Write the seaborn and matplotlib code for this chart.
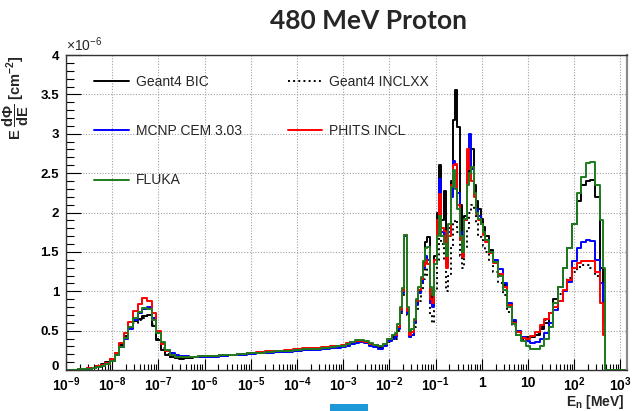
import numpy as np
import pandas as pd
import matplotlib
matplotlib.use("Agg")
import matplotlib.pyplot as plt
import matplotlib.ticker as mticker
import matplotlib.transforms as mtransforms
from matplotlib.patches import Rectangle
import seaborn as sns

# ---------------- data (flux in units of 1e-6 cm^-2) ----------------
log_energy = [
    # thermal region
    -9.0, -8.9, -8.8, -8.7, -8.6, -8.5, -8.4, -8.3, -8.2, -8.1,
    -8.0, -7.9, -7.8, -7.7, -7.6, -7.5, -7.4, -7.3, -7.2, -7.1,
    -7.0, -6.9, -6.8, -6.7, -6.6, -6.5, -6.4, -6.3, -6.2, -6.1, -6.0,
    # epithermal
    -5.8, -5.6, -5.4, -5.2, -5.0, -4.8, -4.6, -4.4, -4.2, -4.0, -3.8, -3.6, -3.4, -3.2,
    -3.1, -3.0, -2.9, -2.8, -2.7, -2.6, -2.5, -2.4, -2.3, -2.2, -2.1, -2.0, -1.9,
    # resonances
    -1.85, -1.80, -1.75, -1.70, -1.65, -1.60, -1.55, -1.50, -1.45, -1.40,
    -1.35, -1.30, -1.25, -1.20, -1.15, -1.10, -1.05, -1.00, -0.95, -0.90,
    -0.85, -0.80, -0.75, -0.70, -0.65, -0.60, -0.55, -0.50, -0.45, -0.40,
    -0.35, -0.30, -0.25, -0.20, -0.15, -0.10, -0.05, 0.00, 0.05, 0.10,
    # fast / high energy
    0.2, 0.3, 0.4, 0.5, 0.6, 0.7, 0.8, 0.9, 1.0, 1.1, 1.2, 1.3, 1.4, 1.5,
    1.6, 1.7, 1.8, 1.9, 2.0, 2.1, 2.2, 2.3, 2.4, 2.5, 2.6, 2.65, 2.7, 2.8, 2.9, 3.0, 3.1,
]

geant4_bic = [
    0.00, 0.00, 0.005, 0.01, 0.015, 0.02, 0.03, 0.045, 0.07, 0.10,
    0.14, 0.22, 0.32, 0.43, 0.54, 0.62, 0.65, 0.68, 0.70, 0.56,
    0.38, 0.26, 0.19, 0.16, 0.15, 0.145, 0.15, 0.155, 0.16, 0.165, 0.17,
    0.175, 0.18, 0.19, 0.20, 0.21, 0.215, 0.225, 0.235, 0.24, 0.25, 0.26, 0.27, 0.275, 0.285,
    0.30, 0.31, 0.33, 0.35, 0.36, 0.37, 0.36, 0.33, 0.32, 0.29, 0.32, 0.38, 0.42,
    0.45, 0.55, 0.78, 1.02, 1.70, 0.76, 0.47, 0.48, 0.62, 0.85,
    1.00, 1.15, 1.36, 1.62, 1.69, 1.00, 0.85, 1.45, 2.00, 2.60,
    1.90, 2.27, 1.50, 1.80, 2.40, 3.17, 3.56, 3.09, 2.10, 1.50,
    1.95, 2.40, 2.62, 2.81, 2.35, 2.15, 2.05, 1.92, 1.82, 1.70,
    1.52, 1.38, 1.22, 1.08, 0.82, 0.62, 0.48, 0.42, 0.42, 0.42, 0.45, 0.52, 0.60, 0.72,
    0.90, 1.05, 1.30, 1.55, 1.86, 2.15, 2.35, 2.40, 2.41, 2.20, 1.30, 0.90, 0, 0, 0, 0, 0,
]

geant4_inclxx = [
    0.00, 0.00, 0.005, 0.01, 0.015, 0.02, 0.03, 0.045, 0.065, 0.095,
    0.13, 0.21, 0.31, 0.42, 0.53, 0.60, 0.63, 0.66, 0.70, 0.58,
    0.40, 0.28, 0.20, 0.17, 0.155, 0.15, 0.155, 0.16, 0.165, 0.17, 0.175,
    0.18, 0.185, 0.19, 0.20, 0.21, 0.22, 0.225, 0.235, 0.245, 0.25, 0.26, 0.265, 0.275, 0.285,
    0.29, 0.30, 0.32, 0.34, 0.35, 0.36, 0.35, 0.32, 0.30, 0.28, 0.30, 0.35, 0.40,
    0.40, 0.50, 0.72, 0.95, 1.50, 0.70, 0.42, 0.44, 0.55, 0.75,
    0.88, 1.00, 1.15, 1.30, 1.20, 0.70, 0.60, 1.00, 1.40, 1.80,
    1.60, 1.40, 1.00, 1.20, 1.55, 1.85, 1.90, 1.75, 1.45, 1.30,
    1.55, 1.80, 2.00, 2.10, 2.05, 1.85, 1.72, 1.65, 1.58, 1.50,
    1.38, 1.24, 1.10, 0.95, 0.74, 0.56, 0.45, 0.40, 0.40, 0.42, 0.46, 0.55, 0.64, 0.74,
    0.86, 0.96, 1.07, 1.17, 1.25, 1.31, 1.33, 1.33, 1.30, 1.20, 0.95, 0.70, 0, 0, 0, 0, 0,
]

mcnp_cem = [
    0.00, 0.00, 0.004, 0.008, 0.012, 0.018, 0.027, 0.04, 0.06, 0.085,
    0.12, 0.19, 0.29, 0.40, 0.52, 0.64, 0.72, 0.77, 0.80, 0.66,
    0.48, 0.34, 0.25, 0.21, 0.19, 0.18, 0.175, 0.17, 0.17, 0.17, 0.17,
    0.17, 0.18, 0.185, 0.19, 0.20, 0.21, 0.215, 0.225, 0.23, 0.24, 0.25, 0.26, 0.265, 0.275,
    0.28, 0.29, 0.31, 0.33, 0.34, 0.35, 0.34, 0.31, 0.29, 0.27, 0.30, 0.37, 0.40,
    0.42, 0.52, 0.74, 0.98, 1.70, 0.72, 0.42, 0.44, 0.60, 0.82,
    0.98, 1.12, 1.30, 1.45, 1.40, 0.85, 0.80, 1.35, 1.80, 2.42,
    1.75, 1.65, 1.35, 1.75, 2.20, 2.65, 2.60, 2.25, 1.75, 1.45,
    1.90, 2.55, 3.00, 2.55, 2.25, 2.05, 1.95, 1.86, 1.75, 1.65,
    1.50, 1.40, 1.28, 1.10, 0.85, 0.64, 0.50, 0.42, 0.37, 0.34, 0.35, 0.40, 0.47, 0.60,
    0.76, 0.88, 1.00, 1.12, 1.38, 1.55, 1.63, 1.65, 1.64, 1.40, 1.10, 0.60, 0, 0, 0, 0, 0,
]

phits_incl = [
    0.00, 0.00, 0.005, 0.01, 0.015, 0.02, 0.03, 0.045, 0.065, 0.095,
    0.14, 0.22, 0.34, 0.47, 0.61, 0.75, 0.84, 0.91, 0.87, 0.72,
    0.50, 0.33, 0.24, 0.19, 0.17, 0.165, 0.165, 0.17, 0.17, 0.175, 0.175,
    0.18, 0.185, 0.19, 0.205, 0.22, 0.225, 0.24, 0.245, 0.255, 0.27, 0.275, 0.28, 0.29, 0.30,
    0.31, 0.32, 0.34, 0.36, 0.37, 0.37, 0.36, 0.33, 0.32, 0.30, 0.33, 0.40, 0.44,
    0.45, 0.55, 0.76, 1.00, 1.72, 0.75, 0.45, 0.48, 0.63, 0.88,
    1.02, 1.15, 1.32, 1.40, 1.35, 0.90, 0.85, 1.40, 1.90, 2.24,
    1.80, 1.76, 1.30, 1.70, 2.35, 2.60, 2.62, 2.10, 1.65, 1.43,
    1.90, 2.81, 2.55, 2.40, 2.20, 1.98, 1.90, 1.85, 1.72, 1.63,
    1.48, 1.36, 1.22, 1.06, 0.82, 0.60, 0.48, 0.41, 0.40, 0.43, 0.48, 0.57, 0.65, 0.72,
    0.80, 0.88, 1.02, 1.14, 1.29, 1.36, 1.38, 1.39, 1.38, 1.25, 0.85, 0.45, 0, 0, 0, 0, 0,
]

fluka = [
    0.00, 0.00, 0.004, 0.008, 0.012, 0.018, 0.026, 0.038, 0.055, 0.08,
    0.12, 0.19, 0.29, 0.41, 0.54, 0.66, 0.74, 0.79, 0.78, 0.64,
    0.47, 0.36, 0.25, 0.19, 0.17, 0.165, 0.165, 0.17, 0.17, 0.175, 0.175,
    0.18, 0.185, 0.19, 0.20, 0.21, 0.22, 0.23, 0.24, 0.245, 0.255, 0.265, 0.27, 0.28, 0.29,
    0.30, 0.31, 0.33, 0.36, 0.38, 0.38, 0.37, 0.34, 0.32, 0.30, 0.33, 0.40, 0.45,
    0.47, 0.58, 0.80, 1.04, 1.72, 0.80, 0.50, 0.52, 0.65, 0.90,
    1.05, 1.18, 1.38, 1.55, 1.56, 1.05, 0.95, 1.35, 1.70, 1.95,
    1.70, 1.60, 1.45, 1.85, 2.33, 2.54, 2.30, 2.05, 1.70, 1.50,
    1.92, 2.35, 2.50, 2.58, 2.25, 2.00, 1.92, 1.86, 1.75, 1.65,
    1.50, 1.37, 1.20, 1.02, 0.80, 0.58, 0.45, 0.37, 0.30, 0.27, 0.27, 0.30, 0.40, 0.55,
    0.85, 1.05, 1.30, 1.55, 1.86, 2.25, 2.45, 2.63, 2.64, 2.35, 1.90, 1.30, 0, 0, 0, 0, 0,
]

codes = ["Geant4 BIC", "Geant4 INCLXX", "MCNP CEM 3.03", "PHITS INCL", "FLUKA"]
series = [geant4_bic, geant4_inclxx, mcnp_cem, phits_incl, fluka]
colors = ["#000000", "#000000", "#0000ff", "#ff0000", "#1e7b1e"]
styles = ["-", ":", "-", "-", "-"]

x_tick_exponents = [-9, -8, -7, -6, -5, -4, -3, -2, -1, 0, 1, 2, 3]
x_tick_labels = [r"$\mathbf{10^{-9}}$", r"$\mathbf{10^{-8}}$", r"$\mathbf{10^{-7}}$",
                 r"$\mathbf{10^{-6}}$", r"$\mathbf{10^{-5}}$", r"$\mathbf{10^{-4}}$",
                 r"$\mathbf{10^{-3}}$", r"$\mathbf{10^{-2}}$", r"$\mathbf{10^{-1}}$",
                 "1", "10", r"$\mathbf{10^{2}}$", r"$\mathbf{10^{3}}$"]
y_ticks = [0, 0.5, 1, 1.5, 2, 2.5, 3, 3.5, 4]
y_tick_labels = ["0", "0.5", "1", "1.5", "2", "2.5", "3", "3.5", "4"]

for s in series:
    assert len(s) == len(log_energy)

# ---------------- style ----------------
sns.set_theme(style="white")
plt.rcParams["font.family"] = ["Liberation Sans", "DejaVu Sans"]
plt.rcParams["mathtext.fontset"] = "custom"
plt.rcParams["mathtext.rm"] = "Liberation Sans"
plt.rcParams["mathtext.bf"] = "Liberation Sans:bold"
plt.rcParams["mathtext.it"] = "Liberation Sans:italic"

fig = plt.figure(figsize=(6.34, 4.11), dpi=100)
fig.patch.set_facecolor("white")
ax = fig.add_axes([66 / 634, 41 / 411, 561 / 634, 315 / 411])
ax.set_xscale("log")

energy = 10.0 ** np.array(log_energy)
df = pd.concat([pd.DataFrame({"energy": energy, "flux": v, "code": c})
                for c, v in zip(codes, series)], ignore_index=True)

for code, col, ls in zip(codes, colors, styles):
    sns.lineplot(data=df[df["code"] == code], x="energy", y="flux", ax=ax,
                 color=col, linestyle=ls, linewidth=1.4, drawstyle="steps-mid",
                 estimator=None, sort=False, label=code)

ax.set_xlim(1e-9, 1.4e3)
ax.set_ylim(0, 4)
ax.set_axisbelow(True)
ax.grid(True, which="major", color="#a0a0a0", linestyle=(0, (1, 1.5)), linewidth=0.8)

ax.set_xticks([10.0 ** k for k in x_tick_exponents])
ax.set_xticklabels(x_tick_labels)
ax.xaxis.set_minor_locator(mticker.LogLocator(base=10, subs=np.arange(2, 10), numticks=100))
ax.xaxis.set_minor_formatter(mticker.NullFormatter())
ax.set_yticks(y_ticks)
ax.set_yticklabels(y_tick_labels)
ax.yaxis.set_minor_locator(mticker.MultipleLocator(0.1))

ax.tick_params(axis="both", which="both", direction="in", bottom=True, left=True,
               top=False, right=False, colors="black")
ax.tick_params(axis="x", which="major", length=8, width=0.8, pad=4.2, labelsize=10)
ax.tick_params(axis="x", which="minor", length=4.5, width=0.8)
ax.tick_params(axis="y", which="major", length=11, width=0.8, pad=5, labelsize=9.5)
ax.tick_params(axis="y", which="minor", length=5.5, width=0.8)
for lbl in ax.get_xticklabels() + ax.get_yticklabels():
    lbl.set_fontweight("bold")

# lift the "0" label a little so it does not collide with the 10^-9 label
zero_lbl = ax.get_yticklabels()[0]
zero_lbl.set_transform(zero_lbl.get_transform() +
                       mtransforms.ScaledTranslation(0, 3 / 72, fig.dpi_scale_trans))

for side in ["left", "bottom", "top"]:
    ax.spines[side].set_color("#333333")
    ax.spines[side].set_linewidth(1.0)
ax.spines["right"].set_color("#8a8a8a")
ax.spines["right"].set_linewidth(1.6)

ax.set_xlabel("")
ax.set_ylabel(r"$\mathbf{E\ \dfrac{d\Phi}{dE}\ [cm^{-2}]}$", loc="top", fontsize=10.5)
ax.yaxis.set_label_coords(-0.062, 1.0)
ax.text(0.996, -0.073, r"$\mathbf{E_{n}\ [MeV]}$", transform=ax.transAxes,
        ha="right", va="top", fontsize=10)
ax.text(0.0, 1.003, r"$\times10^{-6}$", transform=ax.transAxes,
        ha="left", va="bottom", fontsize=10)

handles, labels = ax.get_legend_handles_labels()
order = [0, 2, 4, 1, 3]
ax.legend([handles[i] for i in order], [labels[i] for i in order], ncol=2,
          loc="upper left", bbox_to_anchor=(0.05, 0.938), frameon=False, fontsize=10,
          handlelength=2.5, handletextpad=0.5, columnspacing=3.3, labelspacing=2.55,
          borderaxespad=0, borderpad=0)

fig.text(0.581, 0.949, "480 MeV Proton", fontsize=19, fontweight="bold",
         family="Lato", ha="center", va="center")
fig.add_artist(Rectangle((330 / 634, 0), 38 / 634, 7 / 411, transform=fig.transFigure,
                         color="#1c98d8", lw=0))

fig.savefig("out.png", dpi=100)
